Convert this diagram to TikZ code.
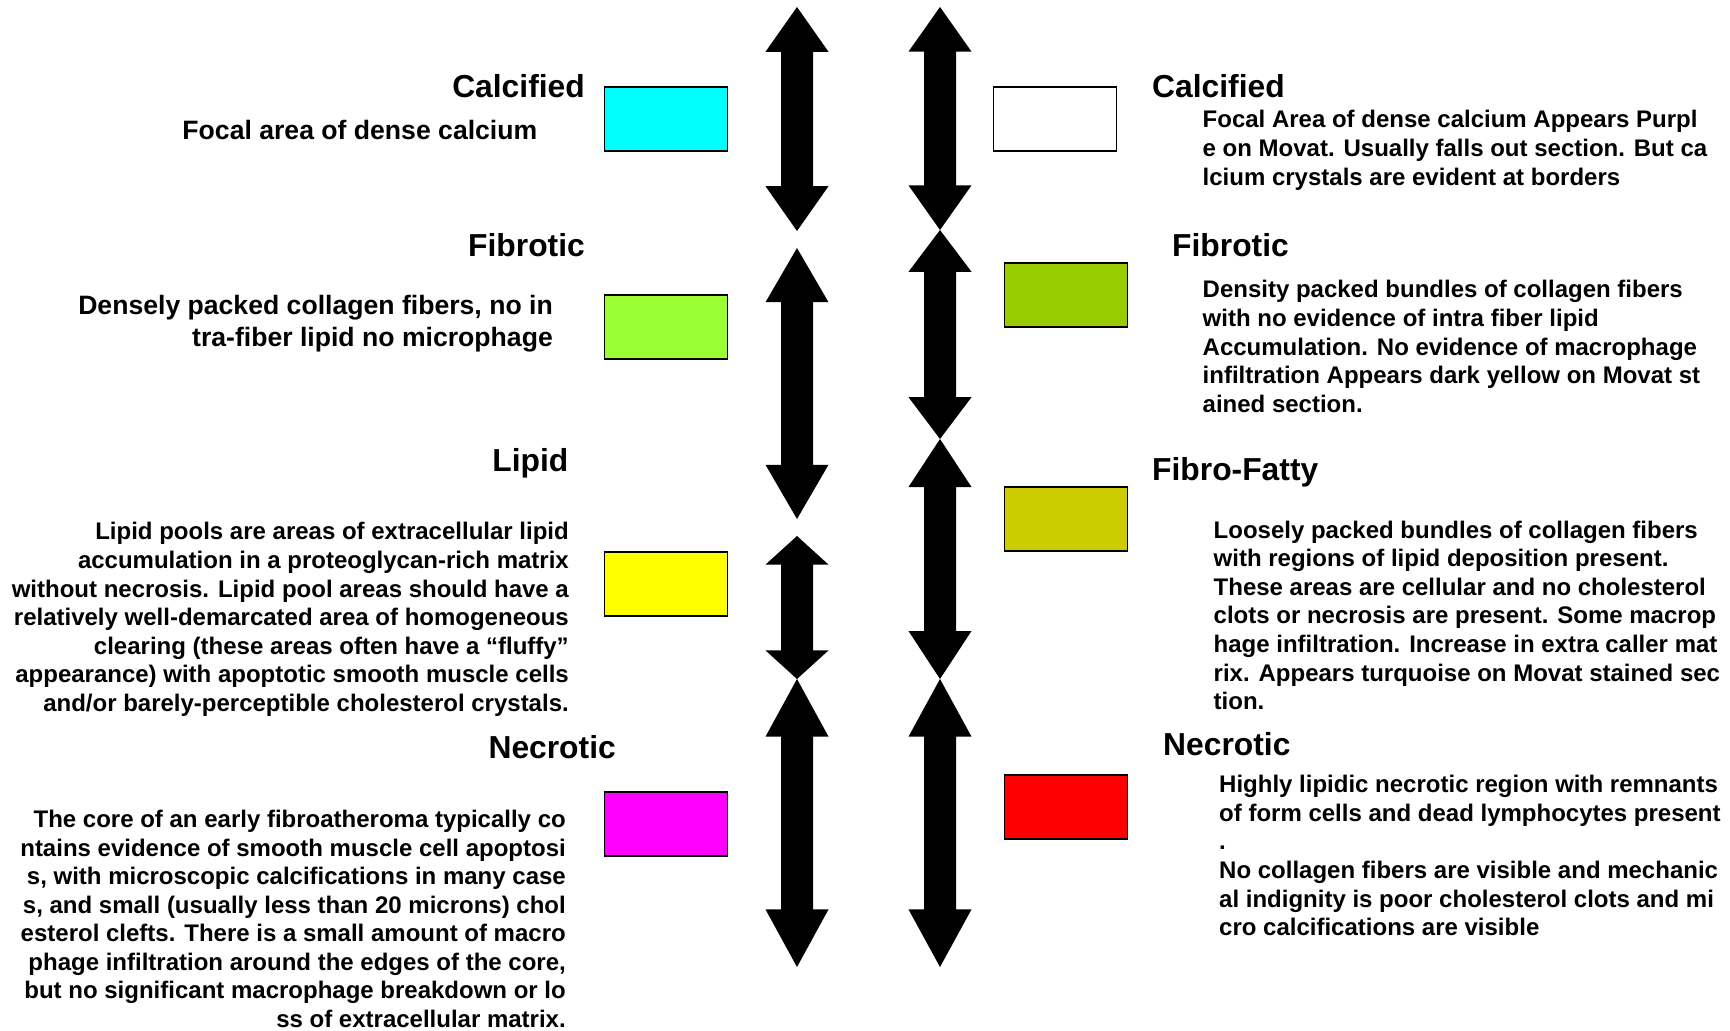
\documentclass[tikz,border=0pt]{standalone}
\usepackage{fontspec}
\setmainfont{Liberation Sans}
\usetikzlibrary{positioning}
\definecolor{swcalc}{RGB}{0,255,255}
\definecolor{swfib}{RGB}{153,255,51}
\definecolor{swlip}{RGB}{255,255,0}
\definecolor{swnec}{RGB}{255,0,255}
\definecolor{swfibm}{RGB}{153,204,0}
\definecolor{swfat}{RGB}{204,204,0}
\definecolor{swnecm}{RGB}{255,0,0}

\begin{document}
\begin{tikzpicture}[x=1pt,y=-1pt,
  swatch/.style={draw=black,line width=1.5pt,minimum width=123pt,
                 minimum height=64pt,inner sep=0pt},
  head/.style={font=\fontsize{31.8}{36}\selectfont\bfseries,inner sep=0pt},
  body/.style={font=\fontsize{24}{28.6}\selectfont\bfseries,inner sep=0pt},
  bigbody/.style={font=\fontsize{26.6}{32}\selectfont\bfseries,inner sep=0pt}]
  \useasboundingbox (0,0) rectangle (1730,1031);

  % double arrows, head = 1/5 of the length
  \foreach \cx/\yt/\yb in {797/7/231, 797/248/519, 797/536/679, 797/679/967,
                           940/7/230, 940/230/439, 940/439/679, 940/679/967}{
    \pgfmathsetmacro\hl{0.2*(\yb-\yt)}
    \pgfmathsetmacro\sl{\yb-\yt-2*\hl}
    \fill (\cx,\yt) -- ++(31.5,\hl) -- ++(-15.5,0) -- ++(0,\sl) -- ++(15.5,0)
      -- ++(-31.5,\hl) -- ++(-31.5,-\hl) -- ++(15.5,0) -- ++(0,-\sl)
      -- ++(-15.5,0) -- cycle;
  }

  % left column
  \node[head,anchor=base east] (calcLhead) at (585,97) {Calcified};
  \node[bigbody,anchor=base east] (calcLtext) at (537.5,139) {Focal area of dense calcium};
  \node[swatch,fill=swcalc] (calcLbox) at (666,119) {};

  \node[head,anchor=base east] (fibLhead) at (585,256) {Fibrotic};
  \node[bigbody,align=right,anchor=north east] (fibLtext) at (553,295.5)
    {Densely packed collagen fibers, no in\\tra-fiber lipid no microphage};
  \node[swatch,fill=swfib] (fibLbox) at (666,327) {};

  \node[head,anchor=base east] (lipLhead) at (568.5,471) {Lipid};
  \node[body,align=right,anchor=north east] (lipLtext) at (569,522.3)
    {Lipid pools are areas of extracellular lipid\\
     accumulation in a proteoglycan-rich matrix\\
     without necrosis. Lipid pool areas should have a\\
     relatively well-demarcated area of homogeneous\\
     clearing (these areas often have a “fluffy”\\
     appearance) with apoptotic smooth muscle cells\\
     and/or barely-perceptible cholesterol crystals.};
  \node[swatch,fill=swlip] (lipLbox) at (666,584) {};

  \node[head,anchor=base east] (necLhead) at (616,758) {Necrotic};
  \node[body,font=\fontsize{24}{28.5}\selectfont\bfseries,align=right,
        anchor=north east] (necLtext) at (566,810.3)
    {The core of an early fibroatheroma typically co\\
     ntains evidence of smooth muscle cell apoptosi\\
     s, with microscopic calcifications in many case\\
     s, and small (usually less than 20 microns) chol\\
     esterol clefts. There is a small amount of macro\\
     phage infiltration around the edges of the core,\\
     but no significant macrophage breakdown or lo\\
     ss of extracellular matrix.};
  \node[swatch,fill=swnec] (necLbox) at (666,824) {};

  % right column
  \node[head,anchor=base west] (calcRhead) at (1152,97.2) {Calcified};
  \node[body,align=left,anchor=north west] (calcRtext) at (1202.5,110.4)
    {Focal Area of dense calcium Appears Purpl\\
     e on Movat. Usually falls out section. But ca\\
     lcium crystals are evident at borders};
  \node[swatch,fill=white] (calcRbox) at (1055,119) {};

  \node[head,anchor=base west] (fibRhead) at (1172,256) {Fibrotic};
  \node[body,align=left,anchor=north west] (fibRtext) at (1202.5,280.4)
    {Density packed bundles of collagen fibers\\
     with no evidence of intra fiber lipid\\
     Accumulation. No evidence of macrophage\\
     infiltration Appears dark yellow on Movat st\\
     ained section.};
  \node[swatch,fill=swfibm] (fibRbox) at (1066,295) {};

  \node[head,anchor=base west] (fatRhead) at (1152,480) {Fibro-Fatty};
  \node[body,align=left,anchor=north west] (fatRtext) at (1213.5,520.4)
    {Loosely packed bundles of collagen fibers\\
     with regions of lipid deposition present.\\
     These areas are cellular and no cholesterol\\
     clots or necrosis are present. Some macrop\\
     hage infiltration. Increase in extra caller mat\\
     rix. Appears turquoise on Movat stained sec\\
     tion.};
  \node[swatch,fill=swfat] (fatRbox) at (1066,519) {};

  \node[head,anchor=base west] (necRhead) at (1163,755) {Necrotic};
  \node[body,font=\fontsize{24}{28.7}\selectfont\bfseries,align=left,
        anchor=north west] (necRtext) at (1219,774.8)
    {Highly lipidic necrotic region with remnants\\
     of form cells and dead lymphocytes present\\
     .\\
     No collagen fibers are visible and mechanic\\
     al indignity is poor cholesterol clots and mi\\
     cro calcifications are visible};
  \node[swatch,fill=swnecm] (necRbox) at (1066,807) {};
\end{tikzpicture}
\end{document}
